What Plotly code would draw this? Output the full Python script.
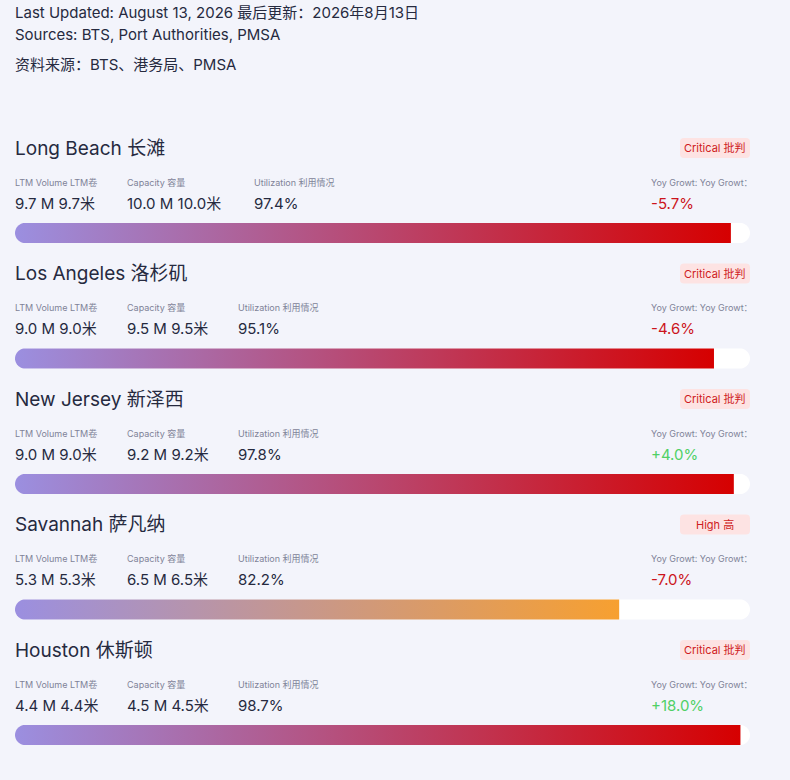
import plotly.graph_objects as go
import numpy as np

# Port data
ports_en = ["Long Beach", "Los Angeles", "New Jersey", "Savannah", "Houston"]
ports_zh = ["长滩", "洛杉矶", "新泽西", "萨凡纳", "休斯顿"]
ltm_volume = [9.7, 9.0, 9.0, 5.3, 4.4]      # M TEU
capacity = [10.0, 9.5, 9.2, 6.5, 4.5]       # M TEU
utilization = [97.4, 95.1, 97.8, 82.2, 98.7]  # %
yoy_growth = [-5.7, -4.6, 4.0, -7.0, 18.0]  # %
status_en = ["Critical", "Critical", "Critical", "High", "Critical"]
status_zh = ["批判", "批判", "批判", "高", "批判"]

header_lines = [
    "Last Updated: August 13, 2026 最后更新：2026年8月13日",
    "Sources: BTS, Port Authorities, PMSA",
    "资料来源：BTS、港务局、PMSA",
]

W, H = 790, 780
BG = "#f3f4fb"
DARK = "#262a3f"
GRAY = "#7f8398"
FONT = "Inter, Noto Sans CJK SC, sans-serif"
TRACK_X0, TRACK_X1 = 15, 750
PX_PER_UNIT = (TRACK_X1 - TRACK_X0) / 100.0
BAR_R = 10  # bar half height in px
ROW0, ROW_STEP = 148, 125.5
TXT_X = 13  # annotations carry ~2px padding

grad_start = "#9b8fe0"
grad_end = {"Critical": "#d60000", "High": "#f7a030"}


def px(x):
    return x / W


def text_width(s, size):
    # rough width estimate to lay out the metric columns
    w = 0
    for c in s:
        if ord(c) > 0x2e80:
            w += size
        elif c in ". ":
            w += 0.28 * size
        elif c == "M":
            w += 0.8 * size
        else:
            w += 0.55 * size
    return w


def round_bar(x_end, yc, round_right):
    rx = BAR_R / PX_PER_UNIT
    t = np.linspace(np.pi / 2, 3 * np.pi / 2, 24)
    xs = list(rx + rx * np.cos(t))
    ys = list(yc - BAR_R * np.sin(t))
    if round_right:
        t2 = np.linspace(-np.pi / 2, np.pi / 2, 24)
        xs += list(x_end - rx + rx * np.cos(t2))
        ys += list(yc - BAR_R * np.sin(t2))
    else:
        xs += [x_end, x_end]
        ys += [yc + BAR_R, yc - BAR_R]
    xs.append(xs[0])
    ys.append(ys[0])
    return xs, ys


fig = go.Figure()
annotations = []
shapes = []

for i, line in enumerate(header_lines):
    annotations.append(dict(
        x=px(TXT_X), y=[12, 34, 64][i], xref="paper", yref="y",
        text=line, showarrow=False, xanchor="left", yanchor="middle",
        font=dict(size=15, color=DARK, family=FONT)))

for i in range(len(ports_en)):
    y0 = ROW0 + i * ROW_STEP
    yc = y0 + 85

    # track
    tx, ty = round_bar(100, yc, True)
    fig.add_trace(go.Scatter(x=tx, y=ty, mode="none", fill="toself",
                             fillcolor="white", hoverinfo="skip", showlegend=False))
    # fill with gradient
    fx, fy = round_bar(utilization[i], yc, False)
    fig.add_trace(go.Scatter(
        x=fx, y=fy, mode="none", fill="toself", hoverinfo="skip", showlegend=False,
        fillgradient=dict(type="horizontal", start=0, stop=utilization[i],
                          colorscale=[[0, grad_start], [1, grad_end[status_en[i]]]])))

    # title
    annotations.append(dict(
        x=px(TXT_X), y=y0, xref="paper", yref="y", text=f"{ports_en[i]} {ports_zh[i]}",
        showarrow=False, xanchor="left", yanchor="middle",
        font=dict(size=19, color=DARK, family=FONT)))

    # badge
    bx0, bx1, by0, by1, r = 680, 750, y0 - 10, y0 + 10, 4
    shapes.append(dict(
        type="path", xref="paper", yref="y", line=dict(width=0), fillcolor="#fde3e3",
        path=(f"M {px(bx0 + r)},{by0} L {px(bx1 - r)},{by0} Q {px(bx1)},{by0} {px(bx1)},{by0 + r} "
              f"L {px(bx1)},{by1 - r} Q {px(bx1)},{by1} {px(bx1 - r)},{by1} "
              f"L {px(bx0 + r)},{by1} Q {px(bx0)},{by1} {px(bx0)},{by1 - r} "
              f"L {px(bx0)},{by0 + r} Q {px(bx0)},{by0} {px(bx0 + r)},{by0} Z")))
    annotations.append(dict(
        x=px((bx0 + bx1) / 2), y=y0, xref="paper", yref="y",
        text=f"{status_en[i]} {status_zh[i]}", showarrow=False,
        xanchor="center", yanchor="middle",
        font=dict(size=11, color="#cf1b22", family=FONT)))

    # metric columns
    labels = ["LTM Volume LTM卷", "Capacity 容量", "Utilization 利用情况"]
    values = [f"{ltm_volume[i]:.1f} M {ltm_volume[i]:.1f}米",
              f"{capacity[i]:.1f} M {capacity[i]:.1f}米",
              f"{utilization[i]:.1f}%"]
    cx = TXT_X
    for lab, val in zip(labels, values):
        annotations.append(dict(
            x=px(cx), y=y0 + 34, xref="paper", yref="y", text=lab, showarrow=False,
            xanchor="left", yanchor="middle", font=dict(size=9, color=GRAY, family=FONT)))
        annotations.append(dict(
            x=px(cx), y=y0 + 55, xref="paper", yref="y", text=val, showarrow=False,
            xanchor="left", yanchor="middle", font=dict(size=15, color=DARK, family=FONT)))
        cx += max(text_width(lab, 9), text_width(val, 15)) + 34

    # yoy growth
    annotations.append(dict(
        x=px(649), y=y0 + 34, xref="paper", yref="y", text="Yoy Growt: Yoy Growt：",
        showarrow=False, xanchor="left", yanchor="middle",
        font=dict(size=9, color=GRAY, family=FONT)))
    g = yoy_growth[i]
    annotations.append(dict(
        x=px(649), y=y0 + 55, xref="paper", yref="y", text=f"{g:+.1f}%",
        showarrow=False, xanchor="left", yanchor="middle",
        font=dict(size=15, color="#cc141c" if g < 0 else "#4fd065", family=FONT)))

fig.update_layout(
    width=W, height=H,
    margin=dict(l=0, r=0, t=0, b=0),
    paper_bgcolor=BG, plot_bgcolor=BG,
    xaxis=dict(domain=[TRACK_X0 / W, TRACK_X1 / W], range=[0, 100], visible=False, fixedrange=True),
    yaxis=dict(domain=[0, 1], range=[H, 0], visible=False, fixedrange=True),
    annotations=annotations,
    shapes=shapes,
    showlegend=False,
)

fig.write_html("out.html", config={"displayModeBar": False},
               post_script="document.body.style.margin='0';")
